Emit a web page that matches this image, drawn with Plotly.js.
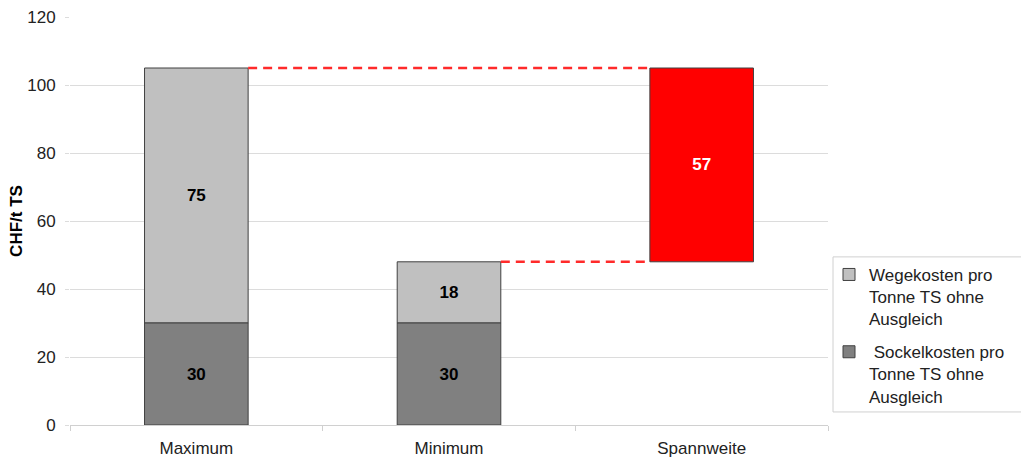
<!DOCTYPE html>
<html>
<head>
<meta charset="utf-8">
<script src="https://cdn.plot.ly/plotly-3.0.1.min.js"></script>
<style>
  html, body { margin: 0; padding: 0; background: #fff; }
  #chart { width: 1021px; height: 461px; }
</style>
</head>
<body>
<div id="chart"></div>
<script>
// Cost spread per tonne of dry matter (CHF/t TS)
const categories = ['Maximum', 'Minimum', 'Spannweite'];
const sockelkosten = [30, 30];      // base cost, Maximum and Minimum
const wegekosten = [75, 18];        // transport cost, Maximum and Minimum
const spannweite = 57;              // range between maximum and minimum
const spannweiteBase = 48;          // where the range bar starts (minimum total)
const yTicks = [0, 20, 40, 60, 80, 100, 120];

const barWidth = 0.41;
const half = barWidth / 2;
const font = 'Liberation Sans, Arial, sans-serif';
const outline = { color: '#404040', width: 1 };

const totals = sockelkosten.map((v, i) => v + wegekosten[i]);

const traces = [
  {
    type: 'bar',
    name: 'Wegekosten pro<br>Tonne TS ohne<br>Ausgleich',
    legendgroup: 'wege',
    x: categories.slice(0, 2),
    y: wegekosten,
    base: sockelkosten,
    width: barWidth,
    marker: { color: '#c0c0c0', line: outline },
    text: wegekosten.map(String),
    textposition: 'inside',
    insidetextanchor: 'middle',
    textangle: 0,
    textfont: { family: font, size: 17, color: '#000', weight: 'bold' },
    hoverinfo: 'skip'
  },
  {
    type: 'bar',
    name: ' Sockelkosten pro<br>Tonne TS ohne<br>Ausgleich',
    legendgroup: 'sockel',
    x: categories.slice(0, 2),
    y: sockelkosten,
    width: barWidth,
    marker: { color: '#808080', line: outline },
    text: sockelkosten.map(String),
    textposition: 'inside',
    insidetextanchor: 'middle',
    textangle: 0,
    textfont: { family: font, size: 17, color: '#000', weight: 'bold' },
    hoverinfo: 'skip'
  },
  {
    type: 'bar',
    name: 'Spannweite',
    showlegend: false,
    x: [categories[2]],
    y: [spannweite],
    base: [spannweiteBase],
    width: barWidth,
    marker: { color: '#ff0000', line: outline },
    text: [String(spannweite)],
    textposition: 'inside',
    insidetextanchor: 'middle',
    textangle: 0,
    textfont: { family: font, size: 17, color: '#fff', weight: 'bold' },
    hoverinfo: 'skip'
  }
];

const dashLine = { color: '#ff2a2a', width: 2.5, dash: '9px,6px' };

const layout = {
  width: 1021,
  height: 461,
  margin: { l: 70, r: 192, t: 17, b: 36 },
  paper_bgcolor: '#fff',
  plot_bgcolor: '#fff',
  barmode: 'overlay',
  font: { family: font, size: 17, color: '#222' },
  showlegend: true,
  legend: {
    x: 1.0, xanchor: 'left',
    y: 0.412, yanchor: 'top',
    bgcolor: 'rgba(0,0,0,0)',
    borderwidth: 0,
    traceorder: 'grouped',
    tracegroupgap: 8,
    valign: 'top',
    itemwidth: 30,
    font: { family: font, size: 17, color: '#222' }
  },
  xaxis: {
    type: 'category',
    categoryorder: 'array',
    categoryarray: categories,
    range: [-0.5, 2.5],
    showgrid: false,
    showline: true,
    linecolor: '#d0d0d0',
    linewidth: 1,
    ticks: 'outside',
    tickson: 'boundaries',
    ticklen: 5,
    tickcolor: '#d0d0d0',
    ticklabelstandoff: 8,
    tickfont: { family: font, size: 17, color: '#222' },
    fixedrange: true
  },
  yaxis: {
    range: [0, 120],
    tickvals: yTicks,
    showgrid: true,
    gridcolor: '#dcdcdc',
    gridwidth: 1,
    zeroline: false,
    showline: false,
    ticks: 'outside',
    ticklen: 4,
    tickcolor: '#dcdcdc',
    ticklabelstandoff: 6,
    tickfont: { family: font, size: 17, color: '#222' },
    title: { text: '<b>CHF/t TS</b>', font: { family: font, size: 17, color: '#000' }, standoff: 0 },
    fixedrange: true
  },
  shapes: [
    {
      type: 'line', xref: 'x', yref: 'y',
      x0: 0 + half, x1: 2 - half, y0: totals[0], y1: totals[0],
      line: dashLine, layer: 'above'
    },
    {
      type: 'line', xref: 'x', yref: 'y',
      x0: 1 + half, x1: 2 - half, y0: totals[1], y1: totals[1],
      line: dashLine, layer: 'above'
    },
    {
      type: 'rect', xref: 'paper', yref: 'paper',
      x0: 1.0066, x1: 1.26, y0: 0.412, y1: 0.032,
      line: { color: '#d0d0d0', width: 1 }
    }
  ]
};

Plotly.newPlot('chart', traces, layout, { displayModeBar: false, staticPlot: true });
</script>
</body>
</html>
